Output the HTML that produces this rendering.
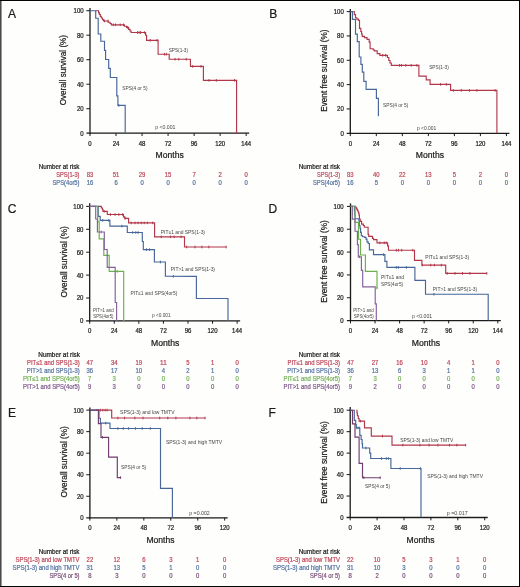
<!DOCTYPE html>
<html><head><meta charset="utf-8"><title>Kaplan-Meier survival curves</title>
<style>
html,body{margin:0;padding:0;background:#fff;}
body{width:520px;height:587px;overflow:hidden;}
svg{display:block;font-family:"Liberation Sans",sans-serif;}
text{stroke-width:0.22px;paint-order:stroke;}
</style></head><body>
<svg width="520" height="587" viewBox="0 0 520 587">
<defs><filter id="soft" x="0" y="0" width="520" height="587" filterUnits="userSpaceOnUse"><feGaussianBlur stdDeviation="0.32"/></filter></defs>
<rect x="0" y="0" width="520" height="587" fill="#fefefd"/>
<g filter="url(#soft)">
<text x="8" y="17.7" font-size="12" fill="#1a1a1a" stroke="#1a1a1a">A</text>
<text x="269.2" y="17.7" font-size="12" fill="#1a1a1a" stroke="#1a1a1a">B</text>
<text x="7.8" y="212.9" font-size="12" fill="#1a1a1a" stroke="#1a1a1a">C</text>
<text x="268.6" y="212.9" font-size="12" fill="#1a1a1a" stroke="#1a1a1a">D</text>
<text x="8" y="416.9" font-size="12" fill="#1a1a1a" stroke="#1a1a1a">E</text>
<text x="268.6" y="416.9" font-size="12" fill="#1a1a1a" stroke="#1a1a1a">F</text>
<line x1="90" y1="8" x2="90" y2="133.8" stroke="#1a1a1a" stroke-width="1.3"/>
<line x1="86.4" y1="133.2" x2="249.18" y2="133.2" stroke="#1a1a1a" stroke-width="1.3"/>
<line x1="86.4" y1="10.7" x2="90" y2="10.7" stroke="#1a1a1a" stroke-width="1"/>
<text x="83.6" y="13.16" font-size="6.6" fill="#1a1a1a" stroke="#1a1a1a" text-anchor="end" textLength="10.05" lengthAdjust="spacingAndGlyphs">100</text>
<line x1="86.4" y1="35.2" x2="90" y2="35.2" stroke="#1a1a1a" stroke-width="1"/>
<text x="83.6" y="37.66" font-size="6.6" fill="#1a1a1a" stroke="#1a1a1a" text-anchor="end" textLength="6.7" lengthAdjust="spacingAndGlyphs">80</text>
<line x1="86.4" y1="59.7" x2="90" y2="59.7" stroke="#1a1a1a" stroke-width="1"/>
<text x="83.6" y="62.16" font-size="6.6" fill="#1a1a1a" stroke="#1a1a1a" text-anchor="end" textLength="6.7" lengthAdjust="spacingAndGlyphs">60</text>
<line x1="86.4" y1="84.2" x2="90" y2="84.2" stroke="#1a1a1a" stroke-width="1"/>
<text x="83.6" y="86.66" font-size="6.6" fill="#1a1a1a" stroke="#1a1a1a" text-anchor="end" textLength="6.7" lengthAdjust="spacingAndGlyphs">40</text>
<line x1="86.4" y1="108.7" x2="90" y2="108.7" stroke="#1a1a1a" stroke-width="1"/>
<text x="83.6" y="111.16" font-size="6.6" fill="#1a1a1a" stroke="#1a1a1a" text-anchor="end" textLength="6.7" lengthAdjust="spacingAndGlyphs">20</text>
<text x="83.6" y="135.66" font-size="6.6" fill="#1a1a1a" stroke="#1a1a1a" text-anchor="end" textLength="3.35" lengthAdjust="spacingAndGlyphs">0</text>
<line x1="90" y1="133.2" x2="90" y2="136" stroke="#1a1a1a" stroke-width="1"/>
<text x="90" y="145.76" font-size="6.6" fill="#1a1a1a" stroke="#1a1a1a" text-anchor="middle" textLength="3.35" lengthAdjust="spacingAndGlyphs">0</text>
<line x1="116.03" y1="133.2" x2="116.03" y2="136" stroke="#1a1a1a" stroke-width="1"/>
<text x="116.03" y="145.76" font-size="6.6" fill="#1a1a1a" stroke="#1a1a1a" text-anchor="middle" textLength="6.7" lengthAdjust="spacingAndGlyphs">24</text>
<line x1="142.06" y1="133.2" x2="142.06" y2="136" stroke="#1a1a1a" stroke-width="1"/>
<text x="142.06" y="145.76" font-size="6.6" fill="#1a1a1a" stroke="#1a1a1a" text-anchor="middle" textLength="6.7" lengthAdjust="spacingAndGlyphs">48</text>
<line x1="168.09" y1="133.2" x2="168.09" y2="136" stroke="#1a1a1a" stroke-width="1"/>
<text x="168.09" y="145.76" font-size="6.6" fill="#1a1a1a" stroke="#1a1a1a" text-anchor="middle" textLength="6.7" lengthAdjust="spacingAndGlyphs">72</text>
<line x1="194.12" y1="133.2" x2="194.12" y2="136" stroke="#1a1a1a" stroke-width="1"/>
<text x="194.12" y="145.76" font-size="6.6" fill="#1a1a1a" stroke="#1a1a1a" text-anchor="middle" textLength="6.7" lengthAdjust="spacingAndGlyphs">96</text>
<line x1="220.15" y1="133.2" x2="220.15" y2="136" stroke="#1a1a1a" stroke-width="1"/>
<text x="220.15" y="145.76" font-size="6.6" fill="#1a1a1a" stroke="#1a1a1a" text-anchor="middle" textLength="10.05" lengthAdjust="spacingAndGlyphs">120</text>
<line x1="246.18" y1="133.2" x2="246.18" y2="136" stroke="#1a1a1a" stroke-width="1"/>
<text x="246.18" y="145.76" font-size="6.6" fill="#1a1a1a" stroke="#1a1a1a" text-anchor="middle" textLength="10.05" lengthAdjust="spacingAndGlyphs">144</text>
<line x1="350.3" y1="9" x2="350.3" y2="133.9" stroke="#1a1a1a" stroke-width="1.3"/>
<line x1="346.7" y1="133.3" x2="509.42" y2="133.3" stroke="#1a1a1a" stroke-width="1.3"/>
<line x1="346.7" y1="11.6" x2="350.3" y2="11.6" stroke="#1a1a1a" stroke-width="1"/>
<text x="343.8" y="14.06" font-size="6.6" fill="#1a1a1a" stroke="#1a1a1a" text-anchor="end" textLength="10.05" lengthAdjust="spacingAndGlyphs">100</text>
<line x1="346.7" y1="35.94" x2="350.3" y2="35.94" stroke="#1a1a1a" stroke-width="1"/>
<text x="343.8" y="38.4" font-size="6.6" fill="#1a1a1a" stroke="#1a1a1a" text-anchor="end" textLength="6.7" lengthAdjust="spacingAndGlyphs">80</text>
<line x1="346.7" y1="60.28" x2="350.3" y2="60.28" stroke="#1a1a1a" stroke-width="1"/>
<text x="343.8" y="62.74" font-size="6.6" fill="#1a1a1a" stroke="#1a1a1a" text-anchor="end" textLength="6.7" lengthAdjust="spacingAndGlyphs">60</text>
<line x1="346.7" y1="84.62" x2="350.3" y2="84.62" stroke="#1a1a1a" stroke-width="1"/>
<text x="343.8" y="87.08" font-size="6.6" fill="#1a1a1a" stroke="#1a1a1a" text-anchor="end" textLength="6.7" lengthAdjust="spacingAndGlyphs">40</text>
<line x1="346.7" y1="108.96" x2="350.3" y2="108.96" stroke="#1a1a1a" stroke-width="1"/>
<text x="343.8" y="111.42" font-size="6.6" fill="#1a1a1a" stroke="#1a1a1a" text-anchor="end" textLength="6.7" lengthAdjust="spacingAndGlyphs">20</text>
<text x="343.8" y="135.76" font-size="6.6" fill="#1a1a1a" stroke="#1a1a1a" text-anchor="end" textLength="3.35" lengthAdjust="spacingAndGlyphs">0</text>
<line x1="350.3" y1="133.3" x2="350.3" y2="136.1" stroke="#1a1a1a" stroke-width="1"/>
<text x="350.3" y="145.76" font-size="6.6" fill="#1a1a1a" stroke="#1a1a1a" text-anchor="middle" textLength="3.35" lengthAdjust="spacingAndGlyphs">0</text>
<line x1="376.32" y1="133.3" x2="376.32" y2="136.1" stroke="#1a1a1a" stroke-width="1"/>
<text x="376.32" y="145.76" font-size="6.6" fill="#1a1a1a" stroke="#1a1a1a" text-anchor="middle" textLength="6.7" lengthAdjust="spacingAndGlyphs">24</text>
<line x1="402.34" y1="133.3" x2="402.34" y2="136.1" stroke="#1a1a1a" stroke-width="1"/>
<text x="402.34" y="145.76" font-size="6.6" fill="#1a1a1a" stroke="#1a1a1a" text-anchor="middle" textLength="6.7" lengthAdjust="spacingAndGlyphs">48</text>
<line x1="428.36" y1="133.3" x2="428.36" y2="136.1" stroke="#1a1a1a" stroke-width="1"/>
<text x="428.36" y="145.76" font-size="6.6" fill="#1a1a1a" stroke="#1a1a1a" text-anchor="middle" textLength="6.7" lengthAdjust="spacingAndGlyphs">72</text>
<line x1="454.38" y1="133.3" x2="454.38" y2="136.1" stroke="#1a1a1a" stroke-width="1"/>
<text x="454.38" y="145.76" font-size="6.6" fill="#1a1a1a" stroke="#1a1a1a" text-anchor="middle" textLength="6.7" lengthAdjust="spacingAndGlyphs">96</text>
<line x1="480.4" y1="133.3" x2="480.4" y2="136.1" stroke="#1a1a1a" stroke-width="1"/>
<text x="480.4" y="145.76" font-size="6.6" fill="#1a1a1a" stroke="#1a1a1a" text-anchor="middle" textLength="10.05" lengthAdjust="spacingAndGlyphs">120</text>
<line x1="506.42" y1="133.3" x2="506.42" y2="136.1" stroke="#1a1a1a" stroke-width="1"/>
<text x="506.42" y="145.76" font-size="6.6" fill="#1a1a1a" stroke="#1a1a1a" text-anchor="middle" textLength="10.05" lengthAdjust="spacingAndGlyphs">144</text>
<line x1="89.7" y1="203.2" x2="89.7" y2="321.5" stroke="#1a1a1a" stroke-width="1.3"/>
<line x1="86.1" y1="320.9" x2="240.12" y2="320.9" stroke="#1a1a1a" stroke-width="1.3"/>
<line x1="86.1" y1="206.4" x2="89.7" y2="206.4" stroke="#1a1a1a" stroke-width="1"/>
<text x="83.4" y="208.86" font-size="6.6" fill="#1a1a1a" stroke="#1a1a1a" text-anchor="end" textLength="10.05" lengthAdjust="spacingAndGlyphs">100</text>
<line x1="86.1" y1="229.3" x2="89.7" y2="229.3" stroke="#1a1a1a" stroke-width="1"/>
<text x="83.4" y="231.76" font-size="6.6" fill="#1a1a1a" stroke="#1a1a1a" text-anchor="end" textLength="6.7" lengthAdjust="spacingAndGlyphs">80</text>
<line x1="86.1" y1="252.2" x2="89.7" y2="252.2" stroke="#1a1a1a" stroke-width="1"/>
<text x="83.4" y="254.66" font-size="6.6" fill="#1a1a1a" stroke="#1a1a1a" text-anchor="end" textLength="6.7" lengthAdjust="spacingAndGlyphs">60</text>
<line x1="86.1" y1="275.1" x2="89.7" y2="275.1" stroke="#1a1a1a" stroke-width="1"/>
<text x="83.4" y="277.56" font-size="6.6" fill="#1a1a1a" stroke="#1a1a1a" text-anchor="end" textLength="6.7" lengthAdjust="spacingAndGlyphs">40</text>
<line x1="86.1" y1="298" x2="89.7" y2="298" stroke="#1a1a1a" stroke-width="1"/>
<text x="83.4" y="300.46" font-size="6.6" fill="#1a1a1a" stroke="#1a1a1a" text-anchor="end" textLength="6.7" lengthAdjust="spacingAndGlyphs">20</text>
<text x="83.4" y="323.36" font-size="6.6" fill="#1a1a1a" stroke="#1a1a1a" text-anchor="end" textLength="3.35" lengthAdjust="spacingAndGlyphs">0</text>
<line x1="89.7" y1="320.9" x2="89.7" y2="323.7" stroke="#1a1a1a" stroke-width="1"/>
<text x="89.7" y="333.36" font-size="6.6" fill="#1a1a1a" stroke="#1a1a1a" text-anchor="middle" textLength="3.35" lengthAdjust="spacingAndGlyphs">0</text>
<line x1="114.27" y1="320.9" x2="114.27" y2="323.7" stroke="#1a1a1a" stroke-width="1"/>
<text x="114.27" y="333.36" font-size="6.6" fill="#1a1a1a" stroke="#1a1a1a" text-anchor="middle" textLength="6.7" lengthAdjust="spacingAndGlyphs">24</text>
<line x1="138.84" y1="320.9" x2="138.84" y2="323.7" stroke="#1a1a1a" stroke-width="1"/>
<text x="138.84" y="333.36" font-size="6.6" fill="#1a1a1a" stroke="#1a1a1a" text-anchor="middle" textLength="6.7" lengthAdjust="spacingAndGlyphs">48</text>
<line x1="163.41" y1="320.9" x2="163.41" y2="323.7" stroke="#1a1a1a" stroke-width="1"/>
<text x="163.41" y="333.36" font-size="6.6" fill="#1a1a1a" stroke="#1a1a1a" text-anchor="middle" textLength="6.7" lengthAdjust="spacingAndGlyphs">72</text>
<line x1="187.98" y1="320.9" x2="187.98" y2="323.7" stroke="#1a1a1a" stroke-width="1"/>
<text x="187.98" y="333.36" font-size="6.6" fill="#1a1a1a" stroke="#1a1a1a" text-anchor="middle" textLength="6.7" lengthAdjust="spacingAndGlyphs">96</text>
<line x1="212.55" y1="320.9" x2="212.55" y2="323.7" stroke="#1a1a1a" stroke-width="1"/>
<text x="212.55" y="333.36" font-size="6.6" fill="#1a1a1a" stroke="#1a1a1a" text-anchor="middle" textLength="10.05" lengthAdjust="spacingAndGlyphs">120</text>
<line x1="237.12" y1="320.9" x2="237.12" y2="323.7" stroke="#1a1a1a" stroke-width="1"/>
<text x="237.12" y="333.36" font-size="6.6" fill="#1a1a1a" stroke="#1a1a1a" text-anchor="middle" textLength="10.05" lengthAdjust="spacingAndGlyphs">144</text>
<line x1="350.5" y1="203.4" x2="350.5" y2="321.2" stroke="#1a1a1a" stroke-width="1.3"/>
<line x1="346.9" y1="320.6" x2="500.8" y2="320.6" stroke="#1a1a1a" stroke-width="1.3"/>
<line x1="346.9" y1="206.4" x2="350.5" y2="206.4" stroke="#1a1a1a" stroke-width="1"/>
<text x="343.6" y="208.86" font-size="6.6" fill="#1a1a1a" stroke="#1a1a1a" text-anchor="end" textLength="10.05" lengthAdjust="spacingAndGlyphs">100</text>
<line x1="346.9" y1="229.24" x2="350.5" y2="229.24" stroke="#1a1a1a" stroke-width="1"/>
<text x="343.6" y="231.7" font-size="6.6" fill="#1a1a1a" stroke="#1a1a1a" text-anchor="end" textLength="6.7" lengthAdjust="spacingAndGlyphs">80</text>
<line x1="346.9" y1="252.08" x2="350.5" y2="252.08" stroke="#1a1a1a" stroke-width="1"/>
<text x="343.6" y="254.54" font-size="6.6" fill="#1a1a1a" stroke="#1a1a1a" text-anchor="end" textLength="6.7" lengthAdjust="spacingAndGlyphs">60</text>
<line x1="346.9" y1="274.92" x2="350.5" y2="274.92" stroke="#1a1a1a" stroke-width="1"/>
<text x="343.6" y="277.38" font-size="6.6" fill="#1a1a1a" stroke="#1a1a1a" text-anchor="end" textLength="6.7" lengthAdjust="spacingAndGlyphs">40</text>
<line x1="346.9" y1="297.76" x2="350.5" y2="297.76" stroke="#1a1a1a" stroke-width="1"/>
<text x="343.6" y="300.22" font-size="6.6" fill="#1a1a1a" stroke="#1a1a1a" text-anchor="end" textLength="6.7" lengthAdjust="spacingAndGlyphs">20</text>
<text x="343.6" y="323.06" font-size="6.6" fill="#1a1a1a" stroke="#1a1a1a" text-anchor="end" textLength="3.35" lengthAdjust="spacingAndGlyphs">0</text>
<line x1="350.5" y1="320.6" x2="350.5" y2="323.4" stroke="#1a1a1a" stroke-width="1"/>
<text x="350.5" y="333.36" font-size="6.6" fill="#1a1a1a" stroke="#1a1a1a" text-anchor="middle" textLength="3.35" lengthAdjust="spacingAndGlyphs">0</text>
<line x1="375.05" y1="320.6" x2="375.05" y2="323.4" stroke="#1a1a1a" stroke-width="1"/>
<text x="375.05" y="333.36" font-size="6.6" fill="#1a1a1a" stroke="#1a1a1a" text-anchor="middle" textLength="6.7" lengthAdjust="spacingAndGlyphs">24</text>
<line x1="399.6" y1="320.6" x2="399.6" y2="323.4" stroke="#1a1a1a" stroke-width="1"/>
<text x="399.6" y="333.36" font-size="6.6" fill="#1a1a1a" stroke="#1a1a1a" text-anchor="middle" textLength="6.7" lengthAdjust="spacingAndGlyphs">48</text>
<line x1="424.15" y1="320.6" x2="424.15" y2="323.4" stroke="#1a1a1a" stroke-width="1"/>
<text x="424.15" y="333.36" font-size="6.6" fill="#1a1a1a" stroke="#1a1a1a" text-anchor="middle" textLength="6.7" lengthAdjust="spacingAndGlyphs">72</text>
<line x1="448.7" y1="320.6" x2="448.7" y2="323.4" stroke="#1a1a1a" stroke-width="1"/>
<text x="448.7" y="333.36" font-size="6.6" fill="#1a1a1a" stroke="#1a1a1a" text-anchor="middle" textLength="6.7" lengthAdjust="spacingAndGlyphs">96</text>
<line x1="473.25" y1="320.6" x2="473.25" y2="323.4" stroke="#1a1a1a" stroke-width="1"/>
<text x="473.25" y="333.36" font-size="6.6" fill="#1a1a1a" stroke="#1a1a1a" text-anchor="middle" textLength="10.05" lengthAdjust="spacingAndGlyphs">120</text>
<line x1="497.8" y1="320.6" x2="497.8" y2="323.4" stroke="#1a1a1a" stroke-width="1"/>
<text x="497.8" y="333.36" font-size="6.6" fill="#1a1a1a" stroke="#1a1a1a" text-anchor="middle" textLength="10.05" lengthAdjust="spacingAndGlyphs">144</text>
<line x1="89.9" y1="407.4" x2="89.9" y2="518.4" stroke="#1a1a1a" stroke-width="1.3"/>
<line x1="86.3" y1="517.8" x2="227.7" y2="517.8" stroke="#1a1a1a" stroke-width="1.3"/>
<line x1="86.3" y1="410.1" x2="89.9" y2="410.1" stroke="#1a1a1a" stroke-width="1"/>
<text x="83.6" y="412.56" font-size="6.6" fill="#1a1a1a" stroke="#1a1a1a" text-anchor="end" textLength="10.05" lengthAdjust="spacingAndGlyphs">100</text>
<line x1="86.3" y1="431.64" x2="89.9" y2="431.64" stroke="#1a1a1a" stroke-width="1"/>
<text x="83.6" y="434.1" font-size="6.6" fill="#1a1a1a" stroke="#1a1a1a" text-anchor="end" textLength="6.7" lengthAdjust="spacingAndGlyphs">80</text>
<line x1="86.3" y1="453.18" x2="89.9" y2="453.18" stroke="#1a1a1a" stroke-width="1"/>
<text x="83.6" y="455.64" font-size="6.6" fill="#1a1a1a" stroke="#1a1a1a" text-anchor="end" textLength="6.7" lengthAdjust="spacingAndGlyphs">60</text>
<line x1="86.3" y1="474.72" x2="89.9" y2="474.72" stroke="#1a1a1a" stroke-width="1"/>
<text x="83.6" y="477.18" font-size="6.6" fill="#1a1a1a" stroke="#1a1a1a" text-anchor="end" textLength="6.7" lengthAdjust="spacingAndGlyphs">40</text>
<line x1="86.3" y1="496.26" x2="89.9" y2="496.26" stroke="#1a1a1a" stroke-width="1"/>
<text x="83.6" y="498.72" font-size="6.6" fill="#1a1a1a" stroke="#1a1a1a" text-anchor="end" textLength="6.7" lengthAdjust="spacingAndGlyphs">20</text>
<text x="83.6" y="520.26" font-size="6.6" fill="#1a1a1a" stroke="#1a1a1a" text-anchor="end" textLength="3.35" lengthAdjust="spacingAndGlyphs">0</text>
<line x1="89.9" y1="517.8" x2="89.9" y2="520.6" stroke="#1a1a1a" stroke-width="1"/>
<text x="89.9" y="529.96" font-size="6.6" fill="#1a1a1a" stroke="#1a1a1a" text-anchor="middle" textLength="3.35" lengthAdjust="spacingAndGlyphs">0</text>
<line x1="116.86" y1="517.8" x2="116.86" y2="520.6" stroke="#1a1a1a" stroke-width="1"/>
<text x="116.86" y="529.96" font-size="6.6" fill="#1a1a1a" stroke="#1a1a1a" text-anchor="middle" textLength="6.7" lengthAdjust="spacingAndGlyphs">24</text>
<line x1="143.82" y1="517.8" x2="143.82" y2="520.6" stroke="#1a1a1a" stroke-width="1"/>
<text x="143.82" y="529.96" font-size="6.6" fill="#1a1a1a" stroke="#1a1a1a" text-anchor="middle" textLength="6.7" lengthAdjust="spacingAndGlyphs">48</text>
<line x1="170.78" y1="517.8" x2="170.78" y2="520.6" stroke="#1a1a1a" stroke-width="1"/>
<text x="170.78" y="529.96" font-size="6.6" fill="#1a1a1a" stroke="#1a1a1a" text-anchor="middle" textLength="6.7" lengthAdjust="spacingAndGlyphs">72</text>
<line x1="197.74" y1="517.8" x2="197.74" y2="520.6" stroke="#1a1a1a" stroke-width="1"/>
<text x="197.74" y="529.96" font-size="6.6" fill="#1a1a1a" stroke="#1a1a1a" text-anchor="middle" textLength="6.7" lengthAdjust="spacingAndGlyphs">96</text>
<line x1="224.7" y1="517.8" x2="224.7" y2="520.6" stroke="#1a1a1a" stroke-width="1"/>
<text x="224.7" y="529.96" font-size="6.6" fill="#1a1a1a" stroke="#1a1a1a" text-anchor="middle" textLength="10.05" lengthAdjust="spacingAndGlyphs">120</text>
<line x1="350.2" y1="407.1" x2="350.2" y2="518.1" stroke="#1a1a1a" stroke-width="1.3"/>
<line x1="346.6" y1="517.5" x2="487.7" y2="517.5" stroke="#1a1a1a" stroke-width="1.3"/>
<line x1="346.6" y1="410.2" x2="350.2" y2="410.2" stroke="#1a1a1a" stroke-width="1"/>
<text x="343.5" y="412.66" font-size="6.6" fill="#1a1a1a" stroke="#1a1a1a" text-anchor="end" textLength="10.05" lengthAdjust="spacingAndGlyphs">100</text>
<line x1="346.6" y1="431.66" x2="350.2" y2="431.66" stroke="#1a1a1a" stroke-width="1"/>
<text x="343.5" y="434.12" font-size="6.6" fill="#1a1a1a" stroke="#1a1a1a" text-anchor="end" textLength="6.7" lengthAdjust="spacingAndGlyphs">80</text>
<line x1="346.6" y1="453.12" x2="350.2" y2="453.12" stroke="#1a1a1a" stroke-width="1"/>
<text x="343.5" y="455.58" font-size="6.6" fill="#1a1a1a" stroke="#1a1a1a" text-anchor="end" textLength="6.7" lengthAdjust="spacingAndGlyphs">60</text>
<line x1="346.6" y1="474.58" x2="350.2" y2="474.58" stroke="#1a1a1a" stroke-width="1"/>
<text x="343.5" y="477.04" font-size="6.6" fill="#1a1a1a" stroke="#1a1a1a" text-anchor="end" textLength="6.7" lengthAdjust="spacingAndGlyphs">40</text>
<line x1="346.6" y1="496.04" x2="350.2" y2="496.04" stroke="#1a1a1a" stroke-width="1"/>
<text x="343.5" y="498.5" font-size="6.6" fill="#1a1a1a" stroke="#1a1a1a" text-anchor="end" textLength="6.7" lengthAdjust="spacingAndGlyphs">20</text>
<text x="343.5" y="519.96" font-size="6.6" fill="#1a1a1a" stroke="#1a1a1a" text-anchor="end" textLength="3.35" lengthAdjust="spacingAndGlyphs">0</text>
<line x1="350.2" y1="517.5" x2="350.2" y2="520.3" stroke="#1a1a1a" stroke-width="1"/>
<text x="350.2" y="529.96" font-size="6.6" fill="#1a1a1a" stroke="#1a1a1a" text-anchor="middle" textLength="3.35" lengthAdjust="spacingAndGlyphs">0</text>
<line x1="377.1" y1="517.5" x2="377.1" y2="520.3" stroke="#1a1a1a" stroke-width="1"/>
<text x="377.1" y="529.96" font-size="6.6" fill="#1a1a1a" stroke="#1a1a1a" text-anchor="middle" textLength="6.7" lengthAdjust="spacingAndGlyphs">24</text>
<line x1="404" y1="517.5" x2="404" y2="520.3" stroke="#1a1a1a" stroke-width="1"/>
<text x="404" y="529.96" font-size="6.6" fill="#1a1a1a" stroke="#1a1a1a" text-anchor="middle" textLength="6.7" lengthAdjust="spacingAndGlyphs">48</text>
<line x1="430.9" y1="517.5" x2="430.9" y2="520.3" stroke="#1a1a1a" stroke-width="1"/>
<text x="430.9" y="529.96" font-size="6.6" fill="#1a1a1a" stroke="#1a1a1a" text-anchor="middle" textLength="6.7" lengthAdjust="spacingAndGlyphs">72</text>
<line x1="457.8" y1="517.5" x2="457.8" y2="520.3" stroke="#1a1a1a" stroke-width="1"/>
<text x="457.8" y="529.96" font-size="6.6" fill="#1a1a1a" stroke="#1a1a1a" text-anchor="middle" textLength="6.7" lengthAdjust="spacingAndGlyphs">96</text>
<line x1="484.7" y1="517.5" x2="484.7" y2="520.3" stroke="#1a1a1a" stroke-width="1"/>
<text x="484.7" y="529.96" font-size="6.6" fill="#1a1a1a" stroke="#1a1a1a" text-anchor="middle" textLength="10.05" lengthAdjust="spacingAndGlyphs">120</text>
<text transform="translate(66.17,70.15) rotate(-90)" x="0" y="0" font-size="8.3" fill="#1a1a1a" stroke="#1a1a1a" text-anchor="middle" textLength="70.3" lengthAdjust="spacingAndGlyphs">Overall survival (%)</text>
<text x="155.6" y="157.94" font-size="8.5" fill="#1a1a1a" stroke="#1a1a1a" textLength="28.2" lengthAdjust="spacingAndGlyphs">Months</text>
<polyline points="95.5,10.7 98.6,10.7 98.6,12.6 99.3,12.6 99.3,14.4 100.3,14.4 100.3,16.4 101.3,16.4 101.3,18 102.5,18 102.5,19.6 103.6,19.6 103.6,21 108.2,21 108.2,22.2 110,22.2 110,23.5 111.3,23.5 111.3,24.8 124.4,24.8 124.4,26.2 126.6,26.2 126.6,27.4 128.6,27.4 128.6,29.4 130,29.4 130,31 131.1,31 131.1,32.5 145.6,32.5 145.6,35.2 146.6,35.2 146.6,40.3 158.1,40.3 158.1,54.2 169.2,54.2 169.2,59.2 190.4,59.2 190.5,66.4 203.4,66.4 203.4,80.4 236.6,80.4 236.6,133.2" fill="none" stroke="#b1374a" stroke-width="1.15" stroke-linejoin="miter"/>
<polyline points="90,10.7 95.7,10.7 95.7,18.2 98.2,18.2 98.2,34 100.8,34 100.8,41.2 104.5,41.2 104.5,50.3 105.6,50.3 105.6,59.5 108.7,59.5 108.7,68.4 110.3,68.4 110.3,77.5 116.8,77.5 116.8,95.9 117.9,95.9 117.9,105.4 125.2,105.4 125.2,133.2" fill="none" stroke="#46669a" stroke-width="1.15" stroke-linejoin="miter"/>
<line x1="104.6" y1="19.7" x2="104.6" y2="22.3" stroke="#b1374a" stroke-width="1"/>
<line x1="108" y1="19.7" x2="108" y2="22.3" stroke="#b1374a" stroke-width="1"/>
<line x1="113.3" y1="23.5" x2="113.3" y2="26.1" stroke="#b1374a" stroke-width="1"/>
<line x1="115.6" y1="23.5" x2="115.6" y2="26.1" stroke="#b1374a" stroke-width="1"/>
<line x1="120.2" y1="23.5" x2="120.2" y2="26.1" stroke="#b1374a" stroke-width="1"/>
<line x1="123.6" y1="23.5" x2="123.6" y2="26.1" stroke="#b1374a" stroke-width="1"/>
<line x1="127.4" y1="26.1" x2="127.4" y2="28.7" stroke="#b1374a" stroke-width="1"/>
<line x1="137.5" y1="31.2" x2="137.5" y2="33.8" stroke="#b1374a" stroke-width="1"/>
<line x1="139.2" y1="31.2" x2="139.2" y2="33.8" stroke="#b1374a" stroke-width="1"/>
<line x1="140.6" y1="31.2" x2="140.6" y2="33.8" stroke="#b1374a" stroke-width="1"/>
<line x1="144.4" y1="31.2" x2="144.4" y2="33.8" stroke="#b1374a" stroke-width="1"/>
<line x1="150.2" y1="39" x2="150.2" y2="41.6" stroke="#b1374a" stroke-width="1"/>
<line x1="157.1" y1="39" x2="157.1" y2="41.6" stroke="#b1374a" stroke-width="1"/>
<line x1="164.4" y1="52.9" x2="164.4" y2="55.5" stroke="#b1374a" stroke-width="1"/>
<line x1="166.3" y1="52.9" x2="166.3" y2="55.5" stroke="#b1374a" stroke-width="1"/>
<line x1="175" y1="57.9" x2="175" y2="60.5" stroke="#b1374a" stroke-width="1"/>
<line x1="178.8" y1="57.9" x2="178.8" y2="60.5" stroke="#b1374a" stroke-width="1"/>
<line x1="186.2" y1="57.9" x2="186.2" y2="60.5" stroke="#b1374a" stroke-width="1"/>
<line x1="192.7" y1="65.1" x2="192.7" y2="67.7" stroke="#b1374a" stroke-width="1"/>
<line x1="201" y1="65.1" x2="201" y2="67.7" stroke="#b1374a" stroke-width="1"/>
<line x1="209" y1="79.1" x2="209" y2="81.7" stroke="#b1374a" stroke-width="1"/>
<line x1="216.3" y1="79.1" x2="216.3" y2="81.7" stroke="#b1374a" stroke-width="1"/>
<line x1="234.6" y1="79.1" x2="234.6" y2="81.7" stroke="#b1374a" stroke-width="1"/>
<line x1="118.8" y1="104.1" x2="118.8" y2="106.7" stroke="#46669a" stroke-width="1"/>
<text x="168.7" y="52.17" font-size="5.5" fill="#444444" textLength="19.3" lengthAdjust="spacingAndGlyphs">SPS(1-3)</text>
<text x="122.3" y="89.67" font-size="5.5" fill="#444444" textLength="25.2" lengthAdjust="spacingAndGlyphs">SPS(4 or 5)</text>
<text x="155.2" y="128.97" font-size="5.5" fill="#444444" textLength="20.3" lengthAdjust="spacingAndGlyphs">p &lt;0.001</text>
<text x="38.75" y="169.33" font-size="6.5" fill="#1a1a1a" stroke="#1a1a1a" textLength="40.75" lengthAdjust="spacingAndGlyphs">Number at risk</text>
<text x="56.3" y="177.26" font-size="6.3" fill="#c04b5e" stroke="#c04b5e" stroke-width="0.15" textLength="23.2" lengthAdjust="spacingAndGlyphs">SPS(1-3)</text>
<text x="90" y="177.26" font-size="6.3" fill="#c04b5e" stroke="#c04b5e" stroke-width="0.15" text-anchor="middle" textLength="6.6" lengthAdjust="spacingAndGlyphs">83</text>
<text x="116.03" y="177.26" font-size="6.3" fill="#c04b5e" stroke="#c04b5e" stroke-width="0.15" text-anchor="middle" textLength="6.6" lengthAdjust="spacingAndGlyphs">51</text>
<text x="142.06" y="177.26" font-size="6.3" fill="#c04b5e" stroke="#c04b5e" stroke-width="0.15" text-anchor="middle" textLength="6.6" lengthAdjust="spacingAndGlyphs">29</text>
<text x="168.09" y="177.26" font-size="6.3" fill="#c04b5e" stroke="#c04b5e" stroke-width="0.15" text-anchor="middle" textLength="6.6" lengthAdjust="spacingAndGlyphs">15</text>
<text x="194.12" y="177.26" font-size="6.3" fill="#c04b5e" stroke="#c04b5e" stroke-width="0.15" text-anchor="middle" textLength="3.3" lengthAdjust="spacingAndGlyphs">7</text>
<text x="220.15" y="177.26" font-size="6.3" fill="#c04b5e" stroke="#c04b5e" stroke-width="0.15" text-anchor="middle" textLength="3.3" lengthAdjust="spacingAndGlyphs">2</text>
<text x="246.18" y="177.26" font-size="6.3" fill="#c04b5e" stroke="#c04b5e" stroke-width="0.15" text-anchor="middle" textLength="3.3" lengthAdjust="spacingAndGlyphs">0</text>
<text x="52.5" y="185.26" font-size="6.3" fill="#5775a3" stroke="#5775a3" stroke-width="0.15" textLength="27" lengthAdjust="spacingAndGlyphs">SPS(4or5)</text>
<text x="90" y="185.26" font-size="6.3" fill="#5775a3" stroke="#5775a3" stroke-width="0.15" text-anchor="middle" textLength="6.6" lengthAdjust="spacingAndGlyphs">16</text>
<text x="116.03" y="185.26" font-size="6.3" fill="#5775a3" stroke="#5775a3" stroke-width="0.15" text-anchor="middle" textLength="3.3" lengthAdjust="spacingAndGlyphs">6</text>
<text x="142.06" y="185.26" font-size="6.3" fill="#5775a3" stroke="#5775a3" stroke-width="0.15" text-anchor="middle" textLength="3.3" lengthAdjust="spacingAndGlyphs">0</text>
<text x="168.09" y="185.26" font-size="6.3" fill="#5775a3" stroke="#5775a3" stroke-width="0.15" text-anchor="middle" textLength="3.3" lengthAdjust="spacingAndGlyphs">0</text>
<text x="194.12" y="185.26" font-size="6.3" fill="#5775a3" stroke="#5775a3" stroke-width="0.15" text-anchor="middle" textLength="3.3" lengthAdjust="spacingAndGlyphs">0</text>
<text x="220.15" y="185.26" font-size="6.3" fill="#5775a3" stroke="#5775a3" stroke-width="0.15" text-anchor="middle" textLength="3.3" lengthAdjust="spacingAndGlyphs">0</text>
<text x="246.18" y="185.26" font-size="6.3" fill="#5775a3" stroke="#5775a3" stroke-width="0.15" text-anchor="middle" textLength="3.3" lengthAdjust="spacingAndGlyphs">0</text>
<text transform="translate(326.67,70.6) rotate(-90)" x="0" y="0" font-size="8.3" fill="#1a1a1a" stroke="#1a1a1a" text-anchor="middle" textLength="82.4" lengthAdjust="spacingAndGlyphs">Event free survival (%)</text>
<text x="415.8" y="157.94" font-size="8.5" fill="#1a1a1a" stroke="#1a1a1a" textLength="28.2" lengthAdjust="spacingAndGlyphs">Months</text>
<polyline points="353.3,11.6 354.3,11.6 354.3,14.6 355.5,14.6 355.5,17.7 356.8,17.7 356.8,19.1 358.4,19.1 358.4,20.4 359.5,20.4 359.5,28.4 360.8,28.4 360.8,31.5 361.6,31.5 361.6,34 362.2,34 362.2,36.3 364.4,36.3 364.4,37.6 367,37.6 367,39.4 369.2,39.4 369.2,42.1 370.1,42.1 370.1,48.7 373.2,48.7 373.2,50 374.5,50 374.5,50.9 377.2,50.9 377.2,53.6 379.9,53.6 379.9,55.3 387.4,55.3 387.4,57.5 388.8,57.5 388.8,60.5 390,60.5 390,63 391.3,63 391.3,65.4 418.9,65.4 418.9,76.1 426.2,76.1 426.2,79.8 430.1,79.8 430.1,84.4 450.6,84.4 450.6,90.4 496.9,90.4 496.9,133.3" fill="none" stroke="#b1374a" stroke-width="1.15" stroke-linejoin="miter"/>
<polyline points="350.3,11.6 352.4,11.6 352.4,19.3 355.5,19.3 355.5,34.1 357.3,34.1 357.3,41.6 359.2,41.6 359.2,57 360.9,57 360.9,64.3 362.3,64.3 362.3,72.1 363.8,72.1 363.8,81.3 366.1,81.3 366.1,89.4 376.4,89.4 376.4,98.4 378.4,98.4 378.4,115.4" fill="none" stroke="#46669a" stroke-width="1.15" stroke-linejoin="miter"/>
<line x1="382.7" y1="54" x2="382.7" y2="56.6" stroke="#b1374a" stroke-width="1"/>
<line x1="385.6" y1="54" x2="385.6" y2="56.6" stroke="#b1374a" stroke-width="1"/>
<line x1="399.6" y1="64.1" x2="399.6" y2="66.7" stroke="#b1374a" stroke-width="1"/>
<line x1="401.5" y1="64.1" x2="401.5" y2="66.7" stroke="#b1374a" stroke-width="1"/>
<line x1="405.8" y1="64.1" x2="405.8" y2="66.7" stroke="#b1374a" stroke-width="1"/>
<line x1="411.2" y1="64.1" x2="411.2" y2="66.7" stroke="#b1374a" stroke-width="1"/>
<line x1="416.9" y1="64.1" x2="416.9" y2="66.7" stroke="#b1374a" stroke-width="1"/>
<line x1="440.6" y1="83.1" x2="440.6" y2="85.7" stroke="#b1374a" stroke-width="1"/>
<line x1="446.3" y1="83.1" x2="446.3" y2="85.7" stroke="#b1374a" stroke-width="1"/>
<line x1="453.3" y1="89.1" x2="453.3" y2="91.7" stroke="#b1374a" stroke-width="1"/>
<line x1="461.3" y1="89.1" x2="461.3" y2="91.7" stroke="#b1374a" stroke-width="1"/>
<line x1="469.4" y1="89.1" x2="469.4" y2="91.7" stroke="#b1374a" stroke-width="1"/>
<line x1="476.9" y1="89.1" x2="476.9" y2="91.7" stroke="#b1374a" stroke-width="1"/>
<line x1="495.1" y1="89.1" x2="495.1" y2="91.7" stroke="#b1374a" stroke-width="1"/>
<line x1="378.4" y1="113.7" x2="378.4" y2="116.3" stroke="#46669a" stroke-width="1"/>
<text x="429.2" y="68.97" font-size="5.5" fill="#444444" textLength="19.6" lengthAdjust="spacingAndGlyphs">SPS(1-3)</text>
<text x="383" y="107.17" font-size="5.5" fill="#444444" textLength="25.3" lengthAdjust="spacingAndGlyphs">SPS(4 or 5)</text>
<text x="417" y="130.27" font-size="5.5" fill="#444444" textLength="19.3" lengthAdjust="spacingAndGlyphs">p &lt;0.001</text>
<text x="298.75" y="169.13" font-size="6.5" fill="#1a1a1a" stroke="#1a1a1a" textLength="41.25" lengthAdjust="spacingAndGlyphs">Number at risk</text>
<text x="317" y="176.86" font-size="6.3" fill="#c04b5e" stroke="#c04b5e" stroke-width="0.15" textLength="23" lengthAdjust="spacingAndGlyphs">SPS(1-3)</text>
<text x="350.3" y="176.86" font-size="6.3" fill="#c04b5e" stroke="#c04b5e" stroke-width="0.15" text-anchor="middle" textLength="6.6" lengthAdjust="spacingAndGlyphs">83</text>
<text x="376.32" y="176.86" font-size="6.3" fill="#c04b5e" stroke="#c04b5e" stroke-width="0.15" text-anchor="middle" textLength="6.6" lengthAdjust="spacingAndGlyphs">40</text>
<text x="402.34" y="176.86" font-size="6.3" fill="#c04b5e" stroke="#c04b5e" stroke-width="0.15" text-anchor="middle" textLength="6.6" lengthAdjust="spacingAndGlyphs">22</text>
<text x="428.36" y="176.86" font-size="6.3" fill="#c04b5e" stroke="#c04b5e" stroke-width="0.15" text-anchor="middle" textLength="6.6" lengthAdjust="spacingAndGlyphs">13</text>
<text x="454.38" y="176.86" font-size="6.3" fill="#c04b5e" stroke="#c04b5e" stroke-width="0.15" text-anchor="middle" textLength="3.3" lengthAdjust="spacingAndGlyphs">5</text>
<text x="480.4" y="176.86" font-size="6.3" fill="#c04b5e" stroke="#c04b5e" stroke-width="0.15" text-anchor="middle" textLength="3.3" lengthAdjust="spacingAndGlyphs">2</text>
<text x="506.42" y="176.86" font-size="6.3" fill="#c04b5e" stroke="#c04b5e" stroke-width="0.15" text-anchor="middle" textLength="3.3" lengthAdjust="spacingAndGlyphs">0</text>
<text x="313" y="184.86" font-size="6.3" fill="#5775a3" stroke="#5775a3" stroke-width="0.15" textLength="27" lengthAdjust="spacingAndGlyphs">SPS(4or5)</text>
<text x="350.3" y="184.86" font-size="6.3" fill="#5775a3" stroke="#5775a3" stroke-width="0.15" text-anchor="middle" textLength="6.6" lengthAdjust="spacingAndGlyphs">16</text>
<text x="376.32" y="184.86" font-size="6.3" fill="#5775a3" stroke="#5775a3" stroke-width="0.15" text-anchor="middle" textLength="3.3" lengthAdjust="spacingAndGlyphs">5</text>
<text x="402.34" y="184.86" font-size="6.3" fill="#5775a3" stroke="#5775a3" stroke-width="0.15" text-anchor="middle" textLength="3.3" lengthAdjust="spacingAndGlyphs">0</text>
<text x="428.36" y="184.86" font-size="6.3" fill="#5775a3" stroke="#5775a3" stroke-width="0.15" text-anchor="middle" textLength="3.3" lengthAdjust="spacingAndGlyphs">0</text>
<text x="454.38" y="184.86" font-size="6.3" fill="#5775a3" stroke="#5775a3" stroke-width="0.15" text-anchor="middle" textLength="3.3" lengthAdjust="spacingAndGlyphs">0</text>
<text x="480.4" y="184.86" font-size="6.3" fill="#5775a3" stroke="#5775a3" stroke-width="0.15" text-anchor="middle" textLength="3.3" lengthAdjust="spacingAndGlyphs">0</text>
<text x="506.42" y="184.86" font-size="6.3" fill="#5775a3" stroke="#5775a3" stroke-width="0.15" text-anchor="middle" textLength="3.3" lengthAdjust="spacingAndGlyphs">0</text>
<text transform="translate(66.67,261.85) rotate(-90)" x="0" y="0" font-size="8.3" fill="#1a1a1a" stroke="#1a1a1a" text-anchor="middle" textLength="71.3" lengthAdjust="spacingAndGlyphs">Overall survival (%)</text>
<text x="151" y="345.64" font-size="8.5" fill="#1a1a1a" stroke="#1a1a1a" textLength="28.3" lengthAdjust="spacingAndGlyphs">Months</text>
<polyline points="98.2,206.4 101.3,206.4 101.3,208 102.5,208 102.5,209.6 103,209.6 103,211.3 107.3,211.3 107.3,214.5 123.5,214.5 123.5,216.8 124.8,216.8 124.8,218.4 128.6,218.4 128.6,222.9 154.6,222.9 154.6,236.8 184.5,236.8 184.5,247 226.3,247" fill="none" stroke="#b1374a" stroke-width="1.15" stroke-linejoin="miter"/>
<polyline points="89.7,206.4 98.2,206.4 98.2,216.3 100.2,216.3 100.2,220.3 109.9,220.3 109.9,226.1 127.3,226.1 127.3,232.5 142.3,232.5 142.3,241.5 143.3,241.5 143.3,249.6 154.4,249.6 154.4,262 165.4,262 165.4,276.3 196.4,276.4 196.4,298.5 228,298.5 228,320.9" fill="none" stroke="#46669a" stroke-width="1.15" stroke-linejoin="miter"/>
<polyline points="89.7,206.4 97.7,206.4 97.7,221.9 99.2,221.9 99.2,238.8 103.8,238.8 103.8,255.3 109.2,255.3 109.2,271.4 123.7,271.4 123.7,320.9" fill="none" stroke="#6ab04c" stroke-width="1.15" stroke-linejoin="miter"/>
<polyline points="89.7,206.4 95.7,206.4 95.7,219 97.4,219 97.4,232 104.3,232 104.3,249.5 107.2,249.5 107.2,267.4 115.2,267.4 115.2,302.5 116.6,302.5 116.6,320.9" fill="none" stroke="#85609a" stroke-width="1.15" stroke-linejoin="miter"/>
<line x1="104.2" y1="210" x2="104.2" y2="212.6" stroke="#b1374a" stroke-width="1"/>
<line x1="110.4" y1="213.2" x2="110.4" y2="215.8" stroke="#b1374a" stroke-width="1"/>
<line x1="115" y1="213.2" x2="115" y2="215.8" stroke="#b1374a" stroke-width="1"/>
<line x1="118.8" y1="213.2" x2="118.8" y2="215.8" stroke="#b1374a" stroke-width="1"/>
<line x1="122.7" y1="213.2" x2="122.7" y2="215.8" stroke="#b1374a" stroke-width="1"/>
<line x1="125" y1="217.1" x2="125" y2="219.7" stroke="#b1374a" stroke-width="1"/>
<line x1="131.2" y1="221.6" x2="131.2" y2="224.2" stroke="#b1374a" stroke-width="1"/>
<line x1="135" y1="221.6" x2="135" y2="224.2" stroke="#b1374a" stroke-width="1"/>
<line x1="138.1" y1="221.6" x2="138.1" y2="224.2" stroke="#b1374a" stroke-width="1"/>
<line x1="141.2" y1="221.6" x2="141.2" y2="224.2" stroke="#b1374a" stroke-width="1"/>
<line x1="144.2" y1="221.6" x2="144.2" y2="224.2" stroke="#b1374a" stroke-width="1"/>
<line x1="147.3" y1="221.6" x2="147.3" y2="224.2" stroke="#b1374a" stroke-width="1"/>
<line x1="152.7" y1="221.6" x2="152.7" y2="224.2" stroke="#b1374a" stroke-width="1"/>
<line x1="161.2" y1="235.5" x2="161.2" y2="238.1" stroke="#b1374a" stroke-width="1"/>
<line x1="170.4" y1="235.5" x2="170.4" y2="238.1" stroke="#b1374a" stroke-width="1"/>
<line x1="174.2" y1="235.5" x2="174.2" y2="238.1" stroke="#b1374a" stroke-width="1"/>
<line x1="181.1" y1="235.5" x2="181.1" y2="238.1" stroke="#b1374a" stroke-width="1"/>
<line x1="186.7" y1="245.7" x2="186.7" y2="248.3" stroke="#b1374a" stroke-width="1"/>
<line x1="195" y1="245.7" x2="195" y2="248.3" stroke="#b1374a" stroke-width="1"/>
<line x1="201.9" y1="245.7" x2="201.9" y2="248.3" stroke="#b1374a" stroke-width="1"/>
<line x1="208.8" y1="245.7" x2="208.8" y2="248.3" stroke="#b1374a" stroke-width="1"/>
<line x1="226.1" y1="245.7" x2="226.1" y2="248.3" stroke="#b1374a" stroke-width="1"/>
<line x1="102.7" y1="219" x2="102.7" y2="221.6" stroke="#46669a" stroke-width="1"/>
<line x1="108.8" y1="219" x2="108.8" y2="221.6" stroke="#46669a" stroke-width="1"/>
<line x1="121.9" y1="224.8" x2="121.9" y2="227.4" stroke="#46669a" stroke-width="1"/>
<line x1="132.7" y1="231.2" x2="132.7" y2="233.8" stroke="#46669a" stroke-width="1"/>
<line x1="135.8" y1="231.2" x2="135.8" y2="233.8" stroke="#46669a" stroke-width="1"/>
<line x1="138.1" y1="231.2" x2="138.1" y2="233.8" stroke="#46669a" stroke-width="1"/>
<line x1="146.5" y1="248.3" x2="146.5" y2="250.9" stroke="#46669a" stroke-width="1"/>
<line x1="149.6" y1="248.3" x2="149.6" y2="250.9" stroke="#46669a" stroke-width="1"/>
<line x1="160.4" y1="260.7" x2="160.4" y2="263.3" stroke="#46669a" stroke-width="1"/>
<line x1="173.4" y1="275" x2="173.4" y2="277.6" stroke="#46669a" stroke-width="1"/>
<line x1="117.3" y1="270.1" x2="117.3" y2="272.7" stroke="#6ab04c" stroke-width="1"/>
<line x1="101.2" y1="230.7" x2="101.2" y2="233.3" stroke="#85609a" stroke-width="1"/>
<text x="160.8" y="233.77" font-size="5.5" fill="#444444" textLength="44.2" lengthAdjust="spacingAndGlyphs">PIT≤1 and SPS(1-3)</text>
<text x="170.8" y="271.27" font-size="5.5" fill="#444444" textLength="44.2" lengthAdjust="spacingAndGlyphs">PIT&gt;1 and SPS(1-3)</text>
<text x="130.5" y="295.17" font-size="5.5" fill="#444444" textLength="46.8" lengthAdjust="spacingAndGlyphs">PIT≤1 and SPS(4or5)</text>
<text x="93" y="311.67" font-size="5.5" fill="#444444" textLength="20.8" lengthAdjust="spacingAndGlyphs">PIT&gt;1 and</text>
<text x="93.3" y="317.67" font-size="5.5" fill="#444444" textLength="20.2" lengthAdjust="spacingAndGlyphs">SPS(4or5)</text>
<text x="152" y="317.37" font-size="5.5" fill="#444444" textLength="18.5" lengthAdjust="spacingAndGlyphs">p &lt;0.001</text>
<text x="38.25" y="356.83" font-size="6.5" fill="#1a1a1a" stroke="#1a1a1a" textLength="41.75" lengthAdjust="spacingAndGlyphs">Number at risk</text>
<text x="27" y="364.76" font-size="6.3" fill="#c04b5e" stroke="#c04b5e" stroke-width="0.15" textLength="52.8" lengthAdjust="spacingAndGlyphs">PIT≤1 and SPS(1-3)</text>
<text x="89.7" y="364.76" font-size="6.3" fill="#c04b5e" stroke="#c04b5e" stroke-width="0.15" text-anchor="middle" textLength="6.6" lengthAdjust="spacingAndGlyphs">47</text>
<text x="114.27" y="364.76" font-size="6.3" fill="#c04b5e" stroke="#c04b5e" stroke-width="0.15" text-anchor="middle" textLength="6.6" lengthAdjust="spacingAndGlyphs">34</text>
<text x="138.84" y="364.76" font-size="6.3" fill="#c04b5e" stroke="#c04b5e" stroke-width="0.15" text-anchor="middle" textLength="6.6" lengthAdjust="spacingAndGlyphs">19</text>
<text x="163.41" y="364.76" font-size="6.3" fill="#c04b5e" stroke="#c04b5e" stroke-width="0.15" text-anchor="middle" textLength="6.6" lengthAdjust="spacingAndGlyphs">11</text>
<text x="187.98" y="364.76" font-size="6.3" fill="#c04b5e" stroke="#c04b5e" stroke-width="0.15" text-anchor="middle" textLength="3.3" lengthAdjust="spacingAndGlyphs">5</text>
<text x="212.55" y="364.76" font-size="6.3" fill="#c04b5e" stroke="#c04b5e" stroke-width="0.15" text-anchor="middle" textLength="3.3" lengthAdjust="spacingAndGlyphs">1</text>
<text x="237.12" y="364.76" font-size="6.3" fill="#c04b5e" stroke="#c04b5e" stroke-width="0.15" text-anchor="middle" textLength="3.3" lengthAdjust="spacingAndGlyphs">0</text>
<text x="26.75" y="372.96" font-size="6.3" fill="#5775a3" stroke="#5775a3" stroke-width="0.15" textLength="53.05" lengthAdjust="spacingAndGlyphs">PIT&gt;1 and SPS(1-3)</text>
<text x="89.7" y="372.96" font-size="6.3" fill="#5775a3" stroke="#5775a3" stroke-width="0.15" text-anchor="middle" textLength="6.6" lengthAdjust="spacingAndGlyphs">36</text>
<text x="114.27" y="372.96" font-size="6.3" fill="#5775a3" stroke="#5775a3" stroke-width="0.15" text-anchor="middle" textLength="6.6" lengthAdjust="spacingAndGlyphs">17</text>
<text x="138.84" y="372.96" font-size="6.3" fill="#5775a3" stroke="#5775a3" stroke-width="0.15" text-anchor="middle" textLength="6.6" lengthAdjust="spacingAndGlyphs">10</text>
<text x="163.41" y="372.96" font-size="6.3" fill="#5775a3" stroke="#5775a3" stroke-width="0.15" text-anchor="middle" textLength="3.3" lengthAdjust="spacingAndGlyphs">4</text>
<text x="187.98" y="372.96" font-size="6.3" fill="#5775a3" stroke="#5775a3" stroke-width="0.15" text-anchor="middle" textLength="3.3" lengthAdjust="spacingAndGlyphs">2</text>
<text x="212.55" y="372.96" font-size="6.3" fill="#5775a3" stroke="#5775a3" stroke-width="0.15" text-anchor="middle" textLength="3.3" lengthAdjust="spacingAndGlyphs">1</text>
<text x="237.12" y="372.96" font-size="6.3" fill="#5775a3" stroke="#5775a3" stroke-width="0.15" text-anchor="middle" textLength="3.3" lengthAdjust="spacingAndGlyphs">0</text>
<text x="23" y="380.96" font-size="6.3" fill="#76b25a" stroke="#76b25a" stroke-width="0.15" textLength="56.8" lengthAdjust="spacingAndGlyphs">PIT≤1 and SPS(4or5)</text>
<text x="89.7" y="380.96" font-size="6.3" fill="#76b25a" stroke="#76b25a" stroke-width="0.15" text-anchor="middle" textLength="3.3" lengthAdjust="spacingAndGlyphs">7</text>
<text x="114.27" y="380.96" font-size="6.3" fill="#76b25a" stroke="#76b25a" stroke-width="0.15" text-anchor="middle" textLength="3.3" lengthAdjust="spacingAndGlyphs">3</text>
<text x="138.84" y="380.96" font-size="6.3" fill="#76b25a" stroke="#76b25a" stroke-width="0.15" text-anchor="middle" textLength="3.3" lengthAdjust="spacingAndGlyphs">0</text>
<text x="163.41" y="380.96" font-size="6.3" fill="#76b25a" stroke="#76b25a" stroke-width="0.15" text-anchor="middle" textLength="3.3" lengthAdjust="spacingAndGlyphs">0</text>
<text x="187.98" y="380.96" font-size="6.3" fill="#76b25a" stroke="#76b25a" stroke-width="0.15" text-anchor="middle" textLength="3.3" lengthAdjust="spacingAndGlyphs">0</text>
<text x="212.55" y="380.96" font-size="6.3" fill="#76b25a" stroke="#76b25a" stroke-width="0.15" text-anchor="middle" textLength="3.3" lengthAdjust="spacingAndGlyphs">0</text>
<text x="237.12" y="380.96" font-size="6.3" fill="#76b25a" stroke="#76b25a" stroke-width="0.15" text-anchor="middle" textLength="3.3" lengthAdjust="spacingAndGlyphs">0</text>
<text x="23" y="388.96" font-size="6.3" fill="#805c8e" stroke="#805c8e" stroke-width="0.15" textLength="56.8" lengthAdjust="spacingAndGlyphs">PIT&gt;1 and SPS(4or5)</text>
<text x="89.7" y="388.96" font-size="6.3" fill="#805c8e" stroke="#805c8e" stroke-width="0.15" text-anchor="middle" textLength="3.3" lengthAdjust="spacingAndGlyphs">9</text>
<text x="114.27" y="388.96" font-size="6.3" fill="#805c8e" stroke="#805c8e" stroke-width="0.15" text-anchor="middle" textLength="3.3" lengthAdjust="spacingAndGlyphs">3</text>
<text x="138.84" y="388.96" font-size="6.3" fill="#805c8e" stroke="#805c8e" stroke-width="0.15" text-anchor="middle" textLength="3.3" lengthAdjust="spacingAndGlyphs">0</text>
<text x="163.41" y="388.96" font-size="6.3" fill="#805c8e" stroke="#805c8e" stroke-width="0.15" text-anchor="middle" textLength="3.3" lengthAdjust="spacingAndGlyphs">0</text>
<text x="187.98" y="388.96" font-size="6.3" fill="#805c8e" stroke="#805c8e" stroke-width="0.15" text-anchor="middle" textLength="3.3" lengthAdjust="spacingAndGlyphs">0</text>
<text x="212.55" y="388.96" font-size="6.3" fill="#805c8e" stroke="#805c8e" stroke-width="0.15" text-anchor="middle" textLength="3.3" lengthAdjust="spacingAndGlyphs">0</text>
<text x="237.12" y="388.96" font-size="6.3" fill="#805c8e" stroke="#805c8e" stroke-width="0.15" text-anchor="middle" textLength="3.3" lengthAdjust="spacingAndGlyphs">0</text>
<text transform="translate(326.67,261.55) rotate(-90)" x="0" y="0" font-size="8.3" fill="#1a1a1a" stroke="#1a1a1a" text-anchor="middle" textLength="82.5" lengthAdjust="spacingAndGlyphs">Event free survival (%)</text>
<text x="411.8" y="345.64" font-size="8.5" fill="#1a1a1a" stroke="#1a1a1a" textLength="28.3" lengthAdjust="spacingAndGlyphs">Months</text>
<polyline points="355.1,206.4 355.6,206.4 355.6,207.3 356.1,207.3 356.1,208.1 356.8,208.1 356.8,209.3 357.5,209.3 357.5,210.5 358,210.5 358,211.7 358.5,211.7 358.5,212.9 359,212.9 359,214.9 359.4,214.9 359.4,219 360.2,219 360.2,221.4 361.6,221.4 361.6,224.1 363.3,224.1 363.3,225.5 364.3,225.5 364.3,227.2 368.1,227.2 368.1,234.4 368.7,234.4 368.7,236.4 372.5,236.4 372.5,238.4 373.5,238.4 373.5,239.6 377,239.6 377,242.8 387.6,242.8 387.6,245.9 388.5,245.9 388.5,250.2 414.5,250.2 414.5,260.3 421.9,260.3 421.9,265.1 445.7,265.1 445.7,273.4 486.7,273.4" fill="none" stroke="#b1374a" stroke-width="1.15" stroke-linejoin="miter"/>
<polyline points="350.5,206.4 354.4,206.4 354.4,211 354.8,211 354.8,215 355.1,215 355.1,218.7 358.9,218.7 358.9,220.7 359.3,220.7 359.3,225.5 360,225.5 360,228.2 360.6,228.2 360.6,232.3 361.3,232.3 361.3,235.7 362.6,235.7 362.6,236.7 364.7,236.7 364.7,237.4 366,237.4 366,239.1 367,239.1 367,241.9 368.2,241.9 368.2,243.5 369.4,243.5 369.4,249.9 373.5,249.9 373.5,254.6 384.9,254.6 384.9,261.3 386.9,261.3 386.9,267.4 414.9,267.4 414.9,280.3 425.5,280.3 425.5,294.2 488.2,294.2 488.2,320.6" fill="none" stroke="#46669a" stroke-width="1.15" stroke-linejoin="miter"/>
<polyline points="350.5,206.4 355.1,206.4 355.1,222.4 358.5,222.4 358.5,239.2 360.5,239.2 360.5,255 365.4,255 365.4,271.4 377,271.4 377,288.4" fill="none" stroke="#6ab04c" stroke-width="1.15" stroke-linejoin="miter"/>
<polyline points="350.5,206.4 352.3,206.4 352.3,219.1 355,219.1 355,231.2 357.4,231.2 357.4,244.6 358.3,244.6 358.3,256.8 361.4,256.8 361.4,270.4 362.7,270.4 362.7,286.8 375.2,286.8 375.2,303.8 376.3,303.8 376.3,320.6" fill="none" stroke="#85609a" stroke-width="1.15" stroke-linejoin="miter"/>
<line x1="379.9" y1="241.5" x2="379.9" y2="244.1" stroke="#b1374a" stroke-width="1"/>
<line x1="384.2" y1="241.5" x2="384.2" y2="244.1" stroke="#b1374a" stroke-width="1"/>
<line x1="386.2" y1="241.5" x2="386.2" y2="244.1" stroke="#b1374a" stroke-width="1"/>
<line x1="396.3" y1="248.9" x2="396.3" y2="251.5" stroke="#b1374a" stroke-width="1"/>
<line x1="398.4" y1="248.9" x2="398.4" y2="251.5" stroke="#b1374a" stroke-width="1"/>
<line x1="401.7" y1="248.9" x2="401.7" y2="251.5" stroke="#b1374a" stroke-width="1"/>
<line x1="412.8" y1="248.9" x2="412.8" y2="251.5" stroke="#b1374a" stroke-width="1"/>
<line x1="422.3" y1="263.8" x2="422.3" y2="266.4" stroke="#b1374a" stroke-width="1"/>
<line x1="430.7" y1="263.8" x2="430.7" y2="266.4" stroke="#b1374a" stroke-width="1"/>
<line x1="434.5" y1="263.8" x2="434.5" y2="266.4" stroke="#b1374a" stroke-width="1"/>
<line x1="441.3" y1="263.8" x2="441.3" y2="266.4" stroke="#b1374a" stroke-width="1"/>
<line x1="447.2" y1="272.1" x2="447.2" y2="274.7" stroke="#b1374a" stroke-width="1"/>
<line x1="455" y1="272.1" x2="455" y2="274.7" stroke="#b1374a" stroke-width="1"/>
<line x1="462.5" y1="272.1" x2="462.5" y2="274.7" stroke="#b1374a" stroke-width="1"/>
<line x1="469.9" y1="272.1" x2="469.9" y2="274.7" stroke="#b1374a" stroke-width="1"/>
<line x1="486.8" y1="272.1" x2="486.8" y2="274.7" stroke="#b1374a" stroke-width="1"/>
<line x1="383.6" y1="253.3" x2="383.6" y2="255.9" stroke="#46669a" stroke-width="1"/>
<line x1="396.3" y1="266.1" x2="396.3" y2="268.7" stroke="#46669a" stroke-width="1"/>
<line x1="398.4" y1="266.1" x2="398.4" y2="268.7" stroke="#46669a" stroke-width="1"/>
<line x1="406.4" y1="266.1" x2="406.4" y2="268.7" stroke="#46669a" stroke-width="1"/>
<line x1="433.9" y1="292.9" x2="433.9" y2="295.5" stroke="#46669a" stroke-width="1"/>
<line x1="377" y1="286.7" x2="377" y2="289.3" stroke="#6ab04c" stroke-width="1"/>
<line x1="359.5" y1="255.5" x2="359.5" y2="258.1" stroke="#85609a" stroke-width="1"/>
<text x="425.2" y="259.17" font-size="5.5" fill="#444444" textLength="44" lengthAdjust="spacingAndGlyphs">PIT≤1 and SPS(1-3)</text>
<text x="381" y="279.37" font-size="5.5" fill="#444444" textLength="23" lengthAdjust="spacingAndGlyphs">PIT≤1 and</text>
<text x="381" y="286.17" font-size="5.5" fill="#444444" textLength="22.1" lengthAdjust="spacingAndGlyphs">SPS(4or5)</text>
<text x="432.8" y="291.47" font-size="5.5" fill="#444444" textLength="44.4" lengthAdjust="spacingAndGlyphs">PIT&gt;1 and SPS(1-3)</text>
<text x="353.2" y="312.47" font-size="5.5" fill="#444444" textLength="20.6" lengthAdjust="spacingAndGlyphs">PIT&gt;1 and</text>
<text x="353.7" y="318.47" font-size="5.5" fill="#444444" textLength="20.1" lengthAdjust="spacingAndGlyphs">SPS(4or5)</text>
<text x="411.9" y="317.67" font-size="5.5" fill="#444444" textLength="20.3" lengthAdjust="spacingAndGlyphs">p &lt;0.001</text>
<text x="298.75" y="356.83" font-size="6.5" fill="#1a1a1a" stroke="#1a1a1a" textLength="41.25" lengthAdjust="spacingAndGlyphs">Number at risk</text>
<text x="287.5" y="364.76" font-size="6.3" fill="#c04b5e" stroke="#c04b5e" stroke-width="0.15" textLength="52.5" lengthAdjust="spacingAndGlyphs">PIT≤1 and SPS(1-3)</text>
<text x="350.5" y="364.76" font-size="6.3" fill="#c04b5e" stroke="#c04b5e" stroke-width="0.15" text-anchor="middle" textLength="6.6" lengthAdjust="spacingAndGlyphs">47</text>
<text x="375.05" y="364.76" font-size="6.3" fill="#c04b5e" stroke="#c04b5e" stroke-width="0.15" text-anchor="middle" textLength="6.6" lengthAdjust="spacingAndGlyphs">27</text>
<text x="399.6" y="364.76" font-size="6.3" fill="#c04b5e" stroke="#c04b5e" stroke-width="0.15" text-anchor="middle" textLength="6.6" lengthAdjust="spacingAndGlyphs">16</text>
<text x="424.15" y="364.76" font-size="6.3" fill="#c04b5e" stroke="#c04b5e" stroke-width="0.15" text-anchor="middle" textLength="6.6" lengthAdjust="spacingAndGlyphs">10</text>
<text x="448.7" y="364.76" font-size="6.3" fill="#c04b5e" stroke="#c04b5e" stroke-width="0.15" text-anchor="middle" textLength="3.3" lengthAdjust="spacingAndGlyphs">4</text>
<text x="473.25" y="364.76" font-size="6.3" fill="#c04b5e" stroke="#c04b5e" stroke-width="0.15" text-anchor="middle" textLength="3.3" lengthAdjust="spacingAndGlyphs">1</text>
<text x="497.8" y="364.76" font-size="6.3" fill="#c04b5e" stroke="#c04b5e" stroke-width="0.15" text-anchor="middle" textLength="3.3" lengthAdjust="spacingAndGlyphs">0</text>
<text x="287.3" y="372.96" font-size="6.3" fill="#5775a3" stroke="#5775a3" stroke-width="0.15" textLength="52.7" lengthAdjust="spacingAndGlyphs">PIT&gt;1 and SPS(1-3)</text>
<text x="350.5" y="372.96" font-size="6.3" fill="#5775a3" stroke="#5775a3" stroke-width="0.15" text-anchor="middle" textLength="6.6" lengthAdjust="spacingAndGlyphs">36</text>
<text x="375.05" y="372.96" font-size="6.3" fill="#5775a3" stroke="#5775a3" stroke-width="0.15" text-anchor="middle" textLength="6.6" lengthAdjust="spacingAndGlyphs">13</text>
<text x="399.6" y="372.96" font-size="6.3" fill="#5775a3" stroke="#5775a3" stroke-width="0.15" text-anchor="middle" textLength="3.3" lengthAdjust="spacingAndGlyphs">6</text>
<text x="424.15" y="372.96" font-size="6.3" fill="#5775a3" stroke="#5775a3" stroke-width="0.15" text-anchor="middle" textLength="3.3" lengthAdjust="spacingAndGlyphs">3</text>
<text x="448.7" y="372.96" font-size="6.3" fill="#5775a3" stroke="#5775a3" stroke-width="0.15" text-anchor="middle" textLength="3.3" lengthAdjust="spacingAndGlyphs">1</text>
<text x="473.25" y="372.96" font-size="6.3" fill="#5775a3" stroke="#5775a3" stroke-width="0.15" text-anchor="middle" textLength="3.3" lengthAdjust="spacingAndGlyphs">1</text>
<text x="497.8" y="372.96" font-size="6.3" fill="#5775a3" stroke="#5775a3" stroke-width="0.15" text-anchor="middle" textLength="3.3" lengthAdjust="spacingAndGlyphs">0</text>
<text x="283.5" y="380.96" font-size="6.3" fill="#76b25a" stroke="#76b25a" stroke-width="0.15" textLength="56.5" lengthAdjust="spacingAndGlyphs">PIT≤1 and SPS(4or5)</text>
<text x="350.5" y="380.96" font-size="6.3" fill="#76b25a" stroke="#76b25a" stroke-width="0.15" text-anchor="middle" textLength="3.3" lengthAdjust="spacingAndGlyphs">7</text>
<text x="375.05" y="380.96" font-size="6.3" fill="#76b25a" stroke="#76b25a" stroke-width="0.15" text-anchor="middle" textLength="3.3" lengthAdjust="spacingAndGlyphs">3</text>
<text x="399.6" y="380.96" font-size="6.3" fill="#76b25a" stroke="#76b25a" stroke-width="0.15" text-anchor="middle" textLength="3.3" lengthAdjust="spacingAndGlyphs">0</text>
<text x="424.15" y="380.96" font-size="6.3" fill="#76b25a" stroke="#76b25a" stroke-width="0.15" text-anchor="middle" textLength="3.3" lengthAdjust="spacingAndGlyphs">0</text>
<text x="448.7" y="380.96" font-size="6.3" fill="#76b25a" stroke="#76b25a" stroke-width="0.15" text-anchor="middle" textLength="3.3" lengthAdjust="spacingAndGlyphs">0</text>
<text x="473.25" y="380.96" font-size="6.3" fill="#76b25a" stroke="#76b25a" stroke-width="0.15" text-anchor="middle" textLength="3.3" lengthAdjust="spacingAndGlyphs">0</text>
<text x="497.8" y="380.96" font-size="6.3" fill="#76b25a" stroke="#76b25a" stroke-width="0.15" text-anchor="middle" textLength="3.3" lengthAdjust="spacingAndGlyphs">0</text>
<text x="283.5" y="388.96" font-size="6.3" fill="#805c8e" stroke="#805c8e" stroke-width="0.15" textLength="56.5" lengthAdjust="spacingAndGlyphs">PIT&gt;1 and SPS(4or5)</text>
<text x="350.5" y="388.96" font-size="6.3" fill="#805c8e" stroke="#805c8e" stroke-width="0.15" text-anchor="middle" textLength="3.3" lengthAdjust="spacingAndGlyphs">9</text>
<text x="375.05" y="388.96" font-size="6.3" fill="#805c8e" stroke="#805c8e" stroke-width="0.15" text-anchor="middle" textLength="3.3" lengthAdjust="spacingAndGlyphs">2</text>
<text x="399.6" y="388.96" font-size="6.3" fill="#805c8e" stroke="#805c8e" stroke-width="0.15" text-anchor="middle" textLength="3.3" lengthAdjust="spacingAndGlyphs">0</text>
<text x="424.15" y="388.96" font-size="6.3" fill="#805c8e" stroke="#805c8e" stroke-width="0.15" text-anchor="middle" textLength="3.3" lengthAdjust="spacingAndGlyphs">0</text>
<text x="448.7" y="388.96" font-size="6.3" fill="#805c8e" stroke="#805c8e" stroke-width="0.15" text-anchor="middle" textLength="3.3" lengthAdjust="spacingAndGlyphs">0</text>
<text x="473.25" y="388.96" font-size="6.3" fill="#805c8e" stroke="#805c8e" stroke-width="0.15" text-anchor="middle" textLength="3.3" lengthAdjust="spacingAndGlyphs">0</text>
<text x="497.8" y="388.96" font-size="6.3" fill="#805c8e" stroke="#805c8e" stroke-width="0.15" text-anchor="middle" textLength="3.3" lengthAdjust="spacingAndGlyphs">0</text>
<text transform="translate(66.67,461.85) rotate(-90)" x="0" y="0" font-size="8.3" fill="#1a1a1a" stroke="#1a1a1a" text-anchor="middle" textLength="71.3" lengthAdjust="spacingAndGlyphs">Overall survival (%)</text>
<text x="146.4" y="542.74" font-size="8.5" fill="#1a1a1a" stroke="#1a1a1a" textLength="28.1" lengthAdjust="spacingAndGlyphs">Months</text>
<polyline points="96,410.1 111.7,410.1 111.7,418 205,418" fill="none" stroke="#b1374a" stroke-width="1.15" stroke-linejoin="miter"/>
<polyline points="89.9,410.1 99,410.1 99,418.2 100.4,418.2 100.4,423.1 110,423.1 110,428.5 160.5,428.5 160.5,488.3 172.4,488.3 172.4,517.8" fill="none" stroke="#46669a" stroke-width="1.15" stroke-linejoin="miter"/>
<polyline points="89.9,410.1 98.4,410.1 98.4,423.6 101,423.6 101,437.4 108.6,437.4 108.6,457.1 117.3,457.1 117.3,477.6 120.6,477.6" fill="none" stroke="#6f3d6d" stroke-width="1.15" stroke-linejoin="miter"/>
<line x1="100.4" y1="408.8" x2="100.4" y2="411.4" stroke="#b1374a" stroke-width="1"/>
<line x1="102.8" y1="408.8" x2="102.8" y2="411.4" stroke="#b1374a" stroke-width="1"/>
<line x1="105.1" y1="408.8" x2="105.1" y2="411.4" stroke="#b1374a" stroke-width="1"/>
<line x1="107.1" y1="408.8" x2="107.1" y2="411.4" stroke="#b1374a" stroke-width="1"/>
<line x1="117.9" y1="416.7" x2="117.9" y2="419.3" stroke="#b1374a" stroke-width="1"/>
<line x1="124.6" y1="416.7" x2="124.6" y2="419.3" stroke="#b1374a" stroke-width="1"/>
<line x1="134.9" y1="416.7" x2="134.9" y2="419.3" stroke="#b1374a" stroke-width="1"/>
<line x1="143" y1="416.7" x2="143" y2="419.3" stroke="#b1374a" stroke-width="1"/>
<line x1="159.7" y1="416.7" x2="159.7" y2="419.3" stroke="#b1374a" stroke-width="1"/>
<line x1="167.8" y1="416.7" x2="167.8" y2="419.3" stroke="#b1374a" stroke-width="1"/>
<line x1="175.9" y1="416.7" x2="175.9" y2="419.3" stroke="#b1374a" stroke-width="1"/>
<line x1="189.9" y1="416.7" x2="189.9" y2="419.3" stroke="#b1374a" stroke-width="1"/>
<line x1="196.9" y1="416.7" x2="196.9" y2="419.3" stroke="#b1374a" stroke-width="1"/>
<line x1="205" y1="416.7" x2="205" y2="419.3" stroke="#b1374a" stroke-width="1"/>
<line x1="105.8" y1="421.8" x2="105.8" y2="424.4" stroke="#46669a" stroke-width="1"/>
<line x1="117.9" y1="427.2" x2="117.9" y2="429.8" stroke="#46669a" stroke-width="1"/>
<line x1="123.3" y1="427.2" x2="123.3" y2="429.8" stroke="#46669a" stroke-width="1"/>
<line x1="128.7" y1="427.2" x2="128.7" y2="429.8" stroke="#46669a" stroke-width="1"/>
<line x1="135.4" y1="427.2" x2="135.4" y2="429.8" stroke="#46669a" stroke-width="1"/>
<line x1="142.2" y1="427.2" x2="142.2" y2="429.8" stroke="#46669a" stroke-width="1"/>
<line x1="150.3" y1="427.2" x2="150.3" y2="429.8" stroke="#46669a" stroke-width="1"/>
<line x1="102.4" y1="436.1" x2="102.4" y2="438.7" stroke="#6f3d6d" stroke-width="1"/>
<line x1="120.6" y1="476.3" x2="120.6" y2="478.9" stroke="#6f3d6d" stroke-width="1"/>
<text x="120.1" y="414.07" font-size="5.5" fill="#444444" textLength="54.4" lengthAdjust="spacingAndGlyphs">SPS(1-3) and low TMTV</text>
<text x="165.9" y="444.27" font-size="5.5" fill="#444444" textLength="56.3" lengthAdjust="spacingAndGlyphs">SPS(1-3) and high TMTV</text>
<text x="121.1" y="469.37" font-size="5.5" fill="#444444" textLength="25.1" lengthAdjust="spacingAndGlyphs">SPS(4 or 5)</text>
<text x="189.2" y="514.87" font-size="5.5" fill="#444444" textLength="20.6" lengthAdjust="spacingAndGlyphs">p =0.002</text>
<text x="38.75" y="554.33" font-size="6.5" fill="#1a1a1a" stroke="#1a1a1a" textLength="40.75" lengthAdjust="spacingAndGlyphs">Number at risk</text>
<text x="15.5" y="561.86" font-size="6.3" fill="#c04b5e" stroke="#c04b5e" stroke-width="0.15" textLength="64" lengthAdjust="spacingAndGlyphs">SPS(1-3) and low TMTV</text>
<text x="89.9" y="561.86" font-size="6.3" fill="#c04b5e" stroke="#c04b5e" stroke-width="0.15" text-anchor="middle" textLength="6.6" lengthAdjust="spacingAndGlyphs">22</text>
<text x="116.86" y="561.86" font-size="6.3" fill="#c04b5e" stroke="#c04b5e" stroke-width="0.15" text-anchor="middle" textLength="6.6" lengthAdjust="spacingAndGlyphs">12</text>
<text x="143.82" y="561.86" font-size="6.3" fill="#c04b5e" stroke="#c04b5e" stroke-width="0.15" text-anchor="middle" textLength="3.3" lengthAdjust="spacingAndGlyphs">6</text>
<text x="170.78" y="561.86" font-size="6.3" fill="#c04b5e" stroke="#c04b5e" stroke-width="0.15" text-anchor="middle" textLength="3.3" lengthAdjust="spacingAndGlyphs">3</text>
<text x="197.74" y="561.86" font-size="6.3" fill="#c04b5e" stroke="#c04b5e" stroke-width="0.15" text-anchor="middle" textLength="3.3" lengthAdjust="spacingAndGlyphs">1</text>
<text x="224.7" y="561.86" font-size="6.3" fill="#c04b5e" stroke="#c04b5e" stroke-width="0.15" text-anchor="middle" textLength="3.3" lengthAdjust="spacingAndGlyphs">0</text>
<text x="12.5" y="569.86" font-size="6.3" fill="#5775a3" stroke="#5775a3" stroke-width="0.15" textLength="67" lengthAdjust="spacingAndGlyphs">SPS(1-3) and high TMTV</text>
<text x="89.9" y="569.86" font-size="6.3" fill="#5775a3" stroke="#5775a3" stroke-width="0.15" text-anchor="middle" textLength="6.6" lengthAdjust="spacingAndGlyphs">31</text>
<text x="116.86" y="569.86" font-size="6.3" fill="#5775a3" stroke="#5775a3" stroke-width="0.15" text-anchor="middle" textLength="6.6" lengthAdjust="spacingAndGlyphs">13</text>
<text x="143.82" y="569.86" font-size="6.3" fill="#5775a3" stroke="#5775a3" stroke-width="0.15" text-anchor="middle" textLength="3.3" lengthAdjust="spacingAndGlyphs">5</text>
<text x="170.78" y="569.86" font-size="6.3" fill="#5775a3" stroke="#5775a3" stroke-width="0.15" text-anchor="middle" textLength="3.3" lengthAdjust="spacingAndGlyphs">1</text>
<text x="197.74" y="569.86" font-size="6.3" fill="#5775a3" stroke="#5775a3" stroke-width="0.15" text-anchor="middle" textLength="3.3" lengthAdjust="spacingAndGlyphs">0</text>
<text x="224.7" y="569.86" font-size="6.3" fill="#5775a3" stroke="#5775a3" stroke-width="0.15" text-anchor="middle" textLength="3.3" lengthAdjust="spacingAndGlyphs">0</text>
<text x="49.5" y="577.66" font-size="6.3" fill="#7d5279" stroke="#7d5279" stroke-width="0.15" textLength="30" lengthAdjust="spacingAndGlyphs">SPS(4 or 5)</text>
<text x="89.9" y="577.66" font-size="6.3" fill="#7d5279" stroke="#7d5279" stroke-width="0.15" text-anchor="middle" textLength="3.3" lengthAdjust="spacingAndGlyphs">8</text>
<text x="116.86" y="577.66" font-size="6.3" fill="#7d5279" stroke="#7d5279" stroke-width="0.15" text-anchor="middle" textLength="3.3" lengthAdjust="spacingAndGlyphs">3</text>
<text x="143.82" y="577.66" font-size="6.3" fill="#7d5279" stroke="#7d5279" stroke-width="0.15" text-anchor="middle" textLength="3.3" lengthAdjust="spacingAndGlyphs">0</text>
<text x="170.78" y="577.66" font-size="6.3" fill="#7d5279" stroke="#7d5279" stroke-width="0.15" text-anchor="middle" textLength="3.3" lengthAdjust="spacingAndGlyphs">0</text>
<text x="197.74" y="577.66" font-size="6.3" fill="#7d5279" stroke="#7d5279" stroke-width="0.15" text-anchor="middle" textLength="3.3" lengthAdjust="spacingAndGlyphs">0</text>
<text x="224.7" y="577.66" font-size="6.3" fill="#7d5279" stroke="#7d5279" stroke-width="0.15" text-anchor="middle" textLength="3.3" lengthAdjust="spacingAndGlyphs">0</text>
<text transform="translate(326.67,462.45) rotate(-90)" x="0" y="0" font-size="8.3" fill="#1a1a1a" stroke="#1a1a1a" text-anchor="middle" textLength="82.5" lengthAdjust="spacingAndGlyphs">Event free survival (%)</text>
<text x="406.5" y="542.74" font-size="8.5" fill="#1a1a1a" stroke="#1a1a1a" textLength="28.1" lengthAdjust="spacingAndGlyphs">Months</text>
<polyline points="356.3,410.2 357,410.2 357,413 357.4,413 357.4,415.7 358.3,415.7 358.3,418.5 359.1,418.5 359.1,421.1 364.5,421.1 364.5,427.9 371.3,427.9 371.3,436.1 392,436.1 392,445.1 465.7,445.1" fill="none" stroke="#b1374a" stroke-width="1.15" stroke-linejoin="miter"/>
<polyline points="350.2,410.2 354.3,410.2 354.3,420.4 355.7,420.4 355.7,424.5 356.3,424.5 356.3,427.9 359.8,427.9 359.8,435.4 361.1,435.4 361.1,439.5 362.1,439.5 362.1,443.6 362.5,443.6 362.5,448 369.7,448 369.7,453.1 370.7,453.1 370.7,458.5 390.9,458.5 390.9,468.5 421,468.5 421,517.5" fill="none" stroke="#46669a" stroke-width="1.15" stroke-linejoin="miter"/>
<polyline points="350.2,410.2 352.5,410.2 352.5,423.8 355,423.8 355,437.1 359.1,437.1 359.1,463.4 362.5,463.4 362.5,477.7 380.2,477.7" fill="none" stroke="#6f3d6d" stroke-width="1.15" stroke-linejoin="miter"/>
<line x1="360.4" y1="419.8" x2="360.4" y2="422.4" stroke="#b1374a" stroke-width="1"/>
<line x1="382.5" y1="434.8" x2="382.5" y2="437.4" stroke="#b1374a" stroke-width="1"/>
<line x1="402.9" y1="443.8" x2="402.9" y2="446.4" stroke="#b1374a" stroke-width="1"/>
<line x1="419.9" y1="443.8" x2="419.9" y2="446.4" stroke="#b1374a" stroke-width="1"/>
<line x1="429.1" y1="443.8" x2="429.1" y2="446.4" stroke="#b1374a" stroke-width="1"/>
<line x1="438" y1="443.8" x2="438" y2="446.4" stroke="#b1374a" stroke-width="1"/>
<line x1="449.5" y1="443.8" x2="449.5" y2="446.4" stroke="#b1374a" stroke-width="1"/>
<line x1="456.8" y1="443.8" x2="456.8" y2="446.4" stroke="#b1374a" stroke-width="1"/>
<line x1="465.7" y1="443.8" x2="465.7" y2="446.4" stroke="#b1374a" stroke-width="1"/>
<line x1="357" y1="426.6" x2="357" y2="429.2" stroke="#46669a" stroke-width="1"/>
<line x1="359.1" y1="426.6" x2="359.1" y2="429.2" stroke="#46669a" stroke-width="1"/>
<line x1="365.9" y1="446.7" x2="365.9" y2="449.3" stroke="#46669a" stroke-width="1"/>
<line x1="381.6" y1="457.2" x2="381.6" y2="459.8" stroke="#46669a" stroke-width="1"/>
<line x1="386.3" y1="457.2" x2="386.3" y2="459.8" stroke="#46669a" stroke-width="1"/>
<line x1="388.4" y1="457.2" x2="388.4" y2="459.8" stroke="#46669a" stroke-width="1"/>
<line x1="400.2" y1="467.2" x2="400.2" y2="469.8" stroke="#46669a" stroke-width="1"/>
<line x1="420.4" y1="467.2" x2="420.4" y2="469.8" stroke="#46669a" stroke-width="1"/>
<line x1="363.8" y1="476.4" x2="363.8" y2="479" stroke="#6f3d6d" stroke-width="1"/>
<line x1="380.2" y1="476.4" x2="380.2" y2="479" stroke="#6f3d6d" stroke-width="1"/>
<text x="400.2" y="441.67" font-size="5.5" fill="#444444" textLength="53.1" lengthAdjust="spacingAndGlyphs">SPS(1-3) and low TMTV</text>
<text x="427.2" y="478.07" font-size="5.5" fill="#444444" textLength="55.8" lengthAdjust="spacingAndGlyphs">SPS(1-3) and high TMTV</text>
<text x="365" y="488.27" font-size="5.5" fill="#444444" textLength="25" lengthAdjust="spacingAndGlyphs">SPS(4 or 5)</text>
<text x="446.8" y="515.47" font-size="5.5" fill="#444444" textLength="20.8" lengthAdjust="spacingAndGlyphs">p =0.017</text>
<text x="298.75" y="553.63" font-size="6.5" fill="#1a1a1a" stroke="#1a1a1a" textLength="41.25" lengthAdjust="spacingAndGlyphs">Number at risk</text>
<text x="276" y="561.56" font-size="6.3" fill="#c04b5e" stroke="#c04b5e" stroke-width="0.15" textLength="64" lengthAdjust="spacingAndGlyphs">SPS(1-3) and low TMTV</text>
<text x="350.2" y="561.56" font-size="6.3" fill="#c04b5e" stroke="#c04b5e" stroke-width="0.15" text-anchor="middle" textLength="6.6" lengthAdjust="spacingAndGlyphs">22</text>
<text x="377.1" y="561.56" font-size="6.3" fill="#c04b5e" stroke="#c04b5e" stroke-width="0.15" text-anchor="middle" textLength="6.6" lengthAdjust="spacingAndGlyphs">10</text>
<text x="404" y="561.56" font-size="6.3" fill="#c04b5e" stroke="#c04b5e" stroke-width="0.15" text-anchor="middle" textLength="3.3" lengthAdjust="spacingAndGlyphs">5</text>
<text x="430.9" y="561.56" font-size="6.3" fill="#c04b5e" stroke="#c04b5e" stroke-width="0.15" text-anchor="middle" textLength="3.3" lengthAdjust="spacingAndGlyphs">3</text>
<text x="457.8" y="561.56" font-size="6.3" fill="#c04b5e" stroke="#c04b5e" stroke-width="0.15" text-anchor="middle" textLength="3.3" lengthAdjust="spacingAndGlyphs">1</text>
<text x="484.7" y="561.56" font-size="6.3" fill="#c04b5e" stroke="#c04b5e" stroke-width="0.15" text-anchor="middle" textLength="3.3" lengthAdjust="spacingAndGlyphs">0</text>
<text x="273" y="569.76" font-size="6.3" fill="#5775a3" stroke="#5775a3" stroke-width="0.15" textLength="67" lengthAdjust="spacingAndGlyphs">SPS(1-3) and high TMTV</text>
<text x="350.2" y="569.76" font-size="6.3" fill="#5775a3" stroke="#5775a3" stroke-width="0.15" text-anchor="middle" textLength="6.6" lengthAdjust="spacingAndGlyphs">31</text>
<text x="377.1" y="569.76" font-size="6.3" fill="#5775a3" stroke="#5775a3" stroke-width="0.15" text-anchor="middle" textLength="6.6" lengthAdjust="spacingAndGlyphs">10</text>
<text x="404" y="569.76" font-size="6.3" fill="#5775a3" stroke="#5775a3" stroke-width="0.15" text-anchor="middle" textLength="3.3" lengthAdjust="spacingAndGlyphs">3</text>
<text x="430.9" y="569.76" font-size="6.3" fill="#5775a3" stroke="#5775a3" stroke-width="0.15" text-anchor="middle" textLength="3.3" lengthAdjust="spacingAndGlyphs">0</text>
<text x="457.8" y="569.76" font-size="6.3" fill="#5775a3" stroke="#5775a3" stroke-width="0.15" text-anchor="middle" textLength="3.3" lengthAdjust="spacingAndGlyphs">0</text>
<text x="484.7" y="569.76" font-size="6.3" fill="#5775a3" stroke="#5775a3" stroke-width="0.15" text-anchor="middle" textLength="3.3" lengthAdjust="spacingAndGlyphs">0</text>
<text x="310" y="577.76" font-size="6.3" fill="#7d5279" stroke="#7d5279" stroke-width="0.15" textLength="30" lengthAdjust="spacingAndGlyphs">SPS(4 or 5)</text>
<text x="350.2" y="577.76" font-size="6.3" fill="#7d5279" stroke="#7d5279" stroke-width="0.15" text-anchor="middle" textLength="3.3" lengthAdjust="spacingAndGlyphs">8</text>
<text x="377.1" y="577.76" font-size="6.3" fill="#7d5279" stroke="#7d5279" stroke-width="0.15" text-anchor="middle" textLength="3.3" lengthAdjust="spacingAndGlyphs">2</text>
<text x="404" y="577.76" font-size="6.3" fill="#7d5279" stroke="#7d5279" stroke-width="0.15" text-anchor="middle" textLength="3.3" lengthAdjust="spacingAndGlyphs">0</text>
<text x="430.9" y="577.76" font-size="6.3" fill="#7d5279" stroke="#7d5279" stroke-width="0.15" text-anchor="middle" textLength="3.3" lengthAdjust="spacingAndGlyphs">0</text>
<text x="457.8" y="577.76" font-size="6.3" fill="#7d5279" stroke="#7d5279" stroke-width="0.15" text-anchor="middle" textLength="3.3" lengthAdjust="spacingAndGlyphs">0</text>
<text x="484.7" y="577.76" font-size="6.3" fill="#7d5279" stroke="#7d5279" stroke-width="0.15" text-anchor="middle" textLength="3.3" lengthAdjust="spacingAndGlyphs">0</text>
</g>
<rect x="0" y="0" width="1" height="587" fill="#4a4a4a"/>
<rect x="1" y="1" width="1" height="585" fill="#9a9a9a"/>
<rect x="0" y="0" width="520" height="1" fill="#050505"/>
<rect x="519" y="0" width="1" height="587" fill="#050505"/>
<rect x="0" y="586" width="520" height="1" fill="#050505"/>
</svg>
</body></html>
